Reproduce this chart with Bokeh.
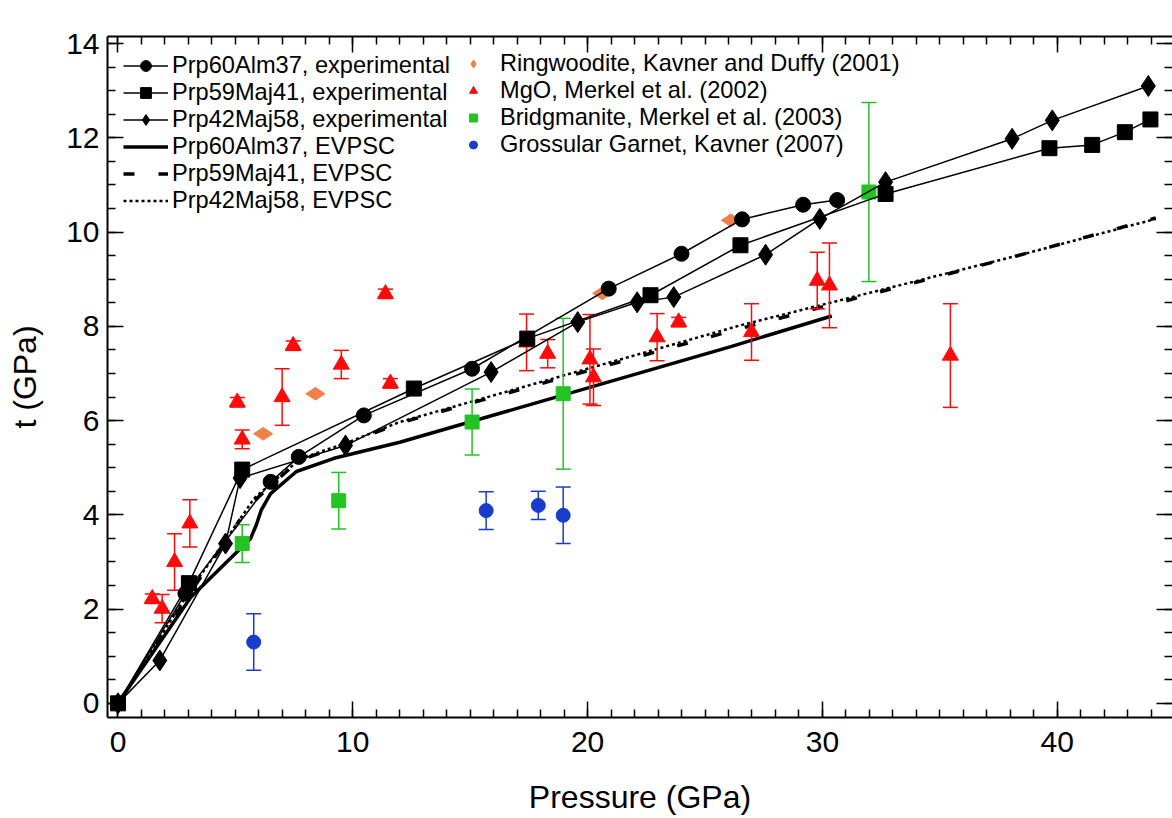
import numpy as np
from bokeh.plotting import figure
from bokeh.models import (Range1d, LinearAxis, SingleIntervalTicker, Legend, LegendItem,
                          CustomJSTickFormatter)
from bokeh.embed import file_html
from bokeh.resources import INLINE

FONT = "Liberation Sans"

# ---------------- data ----------------
# Prp60Alm37, experimental (circles)
circ_p = [0.0, 2.87, 6.5, 7.7, 10.47, 15.08, 20.9, 24.0, 26.58, 29.18, 30.63]
circ_t = [0.0, 2.33, 4.70, 5.23, 6.11, 7.10, 8.80, 9.54, 10.27, 10.58, 10.68]
# Prp59Maj41, experimental (squares)
sq_p = [0.0, 3.02, 5.29, 12.6, 17.43, 22.68, 26.51, 32.69, 39.67, 41.49, 42.88, 43.97]
sq_t = [0.0, 2.55, 4.96, 6.68, 7.74, 8.66, 9.72, 10.81, 11.78, 11.85, 12.12, 12.39]
# Prp42Maj58, experimental (diamonds)
dia_p = [0.0, 1.78, 4.58, 5.2, 9.69, 15.89, 19.58, 22.11, 23.67, 27.58, 29.89, 32.69, 38.08, 39.79, 43.88]
dia_t = [0.0, 0.91, 3.39, 4.78, 5.47, 7.03, 8.09, 8.51, 8.62, 9.52, 10.28, 11.06, 11.98, 12.37, 13.10]

# EVPSC models
ev60_p = [0.0, 3.1, 5.65, 5.9, 6.1, 6.5, 7.6, 9.2, 12.0, 26.1, 30.4]
ev60_t = [0.0, 2.25, 3.5, 3.8, 4.1, 4.45, 4.92, 5.2, 5.54, 7.57, 8.22]
ev59_p = [0.0, 3.0, 4.6, 5.6, 6.5, 7.7, 9.7, 12.0, 26.1, 38.7, 44.2]
ev59_t = [0.0, 2.3, 3.45, 4.2, 4.62, 5.15, 5.5, 5.95, 7.9, 9.55, 10.3]
ev42_p = [0.0, 3.0, 4.7, 5.8, 6.6, 7.8, 9.7, 12.0, 26.5, 38.7, 44.2]
ev42_t = [0.0, 2.35, 3.55, 4.35, 4.7, 5.2, 5.52, 5.97, 8.02, 9.55, 10.28]

# Ringwoodite, Kavner and Duffy (2001)
ring_p = [6.18, 8.41, 20.62, 26.1]
ring_t = [5.72, 6.57, 8.70, 10.25]
# MgO, Merkel et al. (2002)
mgo_p = [1.46, 1.88, 2.41, 3.06, 5.08, 5.29, 6.99, 7.46, 9.51, 11.39, 11.6, 17.4, 18.3,
         20.1, 20.25, 22.96, 23.88, 26.98, 29.78, 30.3, 35.45]
mgo_t = [2.22, 2.01, 3.0, 3.82, 6.39, 5.60, 6.50, 7.59, 7.19, 8.69, 6.79, 7.66, 7.42,
         7.30, 6.92, 7.77, 8.09, 7.88, 8.97, 8.87, 7.38]
mgo_e = [0.1, 0.3, 0.6, 0.5, 0.1, 0.2, 0.6, 0.1, 0.3, 0.1, 0.1, 0.6, 0.3,
         0.95, 0.6, 0.5, 0.1, 0.6, 0.6, 0.9, 1.1]
# Bridgmanite, Merkel et al. (2003)
bdg_p = [5.29, 9.4, 15.08, 18.96, 31.98]
bdg_t = [3.39, 4.3, 5.97, 6.57, 10.85]
bdg_e = [0.4, 0.6, 0.7, 1.6, 1.9]
# Grossular Garnet, Kavner (2007)
grs_p = [5.78, 15.68, 17.9, 18.96]
grs_t = [1.30, 4.09, 4.20, 3.99]
grs_e = [0.6, 0.4, 0.3, 0.6]

RED = "#FF0A0A"
GREEN = "#24C324"
BLUE = "#1A3CCB"
ORANGE = "#F0804A"

p = figure(width=1172, height=818,
           x_range=Range1d(-0.447, 44.91), y_range=Range1d(-0.3, 14.15),
           output_backend="svg", toolbar_location=None,
           min_border_left=107, min_border_right=0, min_border_top=36, min_border_bottom=101,
           x_axis_label="Pressure (GPa)", y_axis_label="t (GPa)")
p.outline_line_color = None
p.grid.visible = False
p.background_fill_color = "white"
p.border_fill_color = "white"

bottom = p.below[0]
left = p.left[0]
bottom.ticker = SingleIntervalTicker(interval=10, num_minor_ticks=10)
left.ticker = SingleIntervalTicker(interval=2, num_minor_ticks=4)

top = LinearAxis(ticker=SingleIntervalTicker(interval=10, num_minor_ticks=10),
                 formatter=CustomJSTickFormatter(code="return ''"))
right = LinearAxis(ticker=SingleIntervalTicker(interval=2, num_minor_ticks=4),
                   formatter=CustomJSTickFormatter(code="return ''"))
p.add_layout(top, "above")
p.add_layout(right, "right")

for ax in (bottom, left, top, right):
    ax.axis_line_color = "black"
    ax.axis_line_width = 2
    ax.major_tick_in = 16
    ax.major_tick_out = 0
    ax.minor_tick_in = 8
    ax.minor_tick_out = 0
    ax.major_tick_line_color = "black"
    ax.minor_tick_line_color = "black"
    ax.major_tick_line_width = 1.5
    ax.minor_tick_line_width = 1.5
    ax.major_label_text_font = FONT
    ax.major_label_text_font_size = "30px"
    ax.major_label_text_color = "black"
    ax.axis_label_text_font = FONT
    ax.axis_label_text_font_size = "32px"
    ax.axis_label_text_font_style = "normal"
    ax.axis_label_text_color = "black"

for ax in (top, right):
    ax.major_label_text_font_size = "0px"
    ax.major_label_standoff = 0
right.axis_line_color = None

bottom.major_label_standoff = 14
bottom.axis_label_standoff = 24
left.major_label_standoff = 8
left.axis_label_standoff = 20

# EVPSC model curves
r_ev60 = p.line(ev60_p, ev60_t, line_width=3.5, color="black")
r_ev59 = p.line(ev59_p, ev59_t, line_width=3.5, color="black", line_dash="11 24")
r_ev42 = p.line(ev42_p, ev42_t, line_width=2.5, color="black", line_dash="3 3")


def errbars(px, pt, pe, color):
    pt = np.array(pt)
    pe = np.array(pe)
    lo = pt - pe
    hi = pt + pe
    p.segment(px, lo, px, hi, line_color=color, line_width=1.5)
    p.scatter(px, lo, marker="dash", size=15, line_color=color, line_width=1.5)
    p.scatter(px, hi, marker="dash", size=15, line_color=color, line_width=1.5)


errbars(grs_p, grs_t, grs_e, BLUE)
r_grs = p.scatter(grs_p, grs_t, marker="circle", size=14, color=BLUE)
errbars(bdg_p, bdg_t, bdg_e, GREEN)
r_bdg = p.scatter(bdg_p, bdg_t, marker="square", size=14, color=GREEN)
errbars(mgo_p, mgo_t, mgo_e, RED)
r_mgo = p.scatter(mgo_p, mgo_t, marker="triangle", size=16, color=RED)
r_ring = p.scatter(ring_p, ring_t, marker="diamond", size=19, angle=np.pi / 2, color=ORANGE)

# experimental series
l_circ = p.line(circ_p, circ_t, line_width=1.5, color="black")
m_circ = p.scatter(circ_p, circ_t, marker="circle", size=15, color="black")
l_sq = p.line(sq_p, sq_t, line_width=1.5, color="black")
m_sq = p.scatter(sq_p, sq_t, marker="square", size=15, color="black")
l_dia = p.line(dia_p, dia_t, line_width=1.5, color="black")
m_dia = p.scatter(dia_p, dia_t, marker="diamond", size=21, color="black")


def style_legend(lg, fsize):
    lg.border_line_color = None
    lg.background_fill_alpha = 0
    lg.padding = 0
    lg.margin = 0
    lg.spacing = 0
    lg.label_text_font = FONT
    lg.label_text_font_size = fsize
    lg.label_text_color = "black"
    lg.glyph_height = 27
    lg.label_height = 27


leg1 = Legend(items=[
    LegendItem(label="Prp60Alm37, experimental", renderers=[l_circ, m_circ]),
    LegendItem(label="Prp59Maj41, experimental", renderers=[l_sq, m_sq]),
    LegendItem(label="Prp42Maj58, experimental", renderers=[l_dia, m_dia]),
    LegendItem(label="Prp60Alm37, EVPSC", renderers=[r_ev60]),
    LegendItem(label="Prp59Maj41, EVPSC", renderers=[r_ev59]),
    LegendItem(label="Prp42Maj58, EVPSC", renderers=[r_ev42]),
], location=(16, 503))
style_legend(leg1, "23.6px")
leg1.glyph_width = 45
leg1.label_standoff = 4

leg2 = Legend(items=[
    LegendItem(label="Ringwoodite, Kavner and Duffy (2001)", renderers=[r_ring]),
    LegendItem(label="MgO, Merkel et al. (2002)", renderers=[r_mgo]),
    LegendItem(label="Bridgmanite, Merkel et al. (2003)", renderers=[r_bdg]),
    LegendItem(label="Grossular Garnet, Kavner (2007)", renderers=[r_grs]),
], location=(356, 559))
style_legend(leg2, "23.6px")
leg2.glyph_width = 20
leg2.label_standoff = 17

p.add_layout(leg1)
p.add_layout(leg2)

open("out.html", "w").write(file_html(p, INLINE))
